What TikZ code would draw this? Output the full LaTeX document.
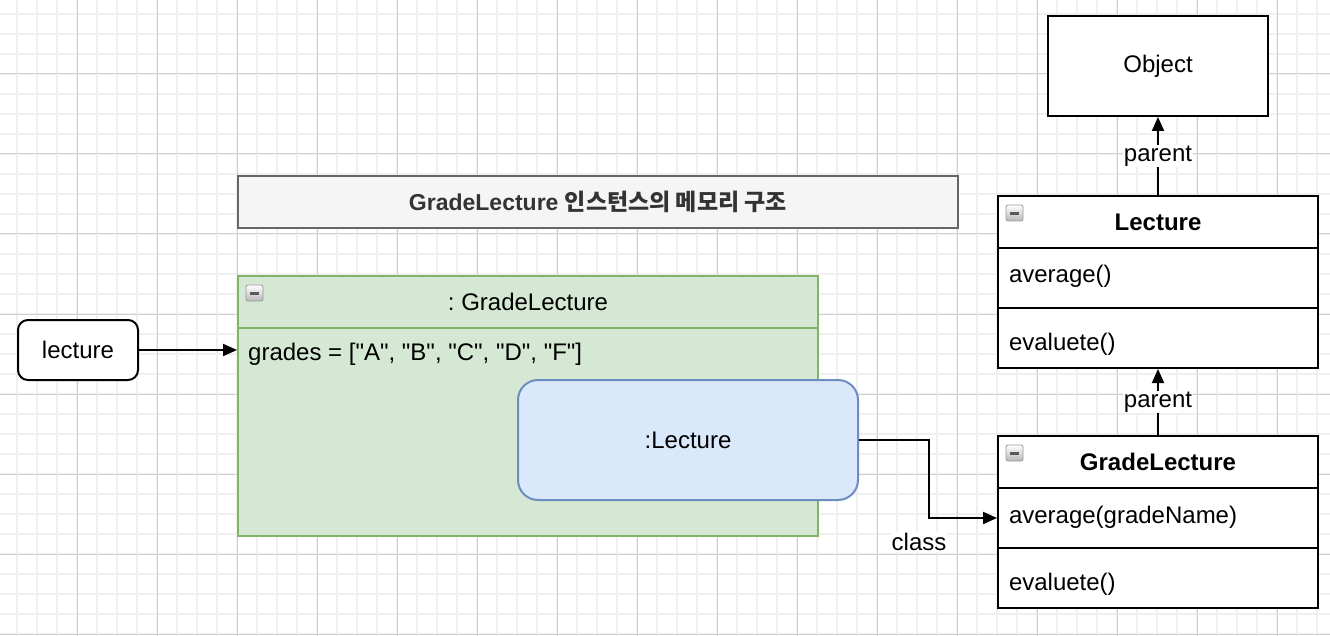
\documentclass[tikz,border=0pt]{standalone}
\usepackage{fontspec}
\setmainfont{Liberation Sans}[Ligatures=TeXOff]
\newfontfamily\krfont{Noto Sans CJK KR}
\usetikzlibrary{arrows.meta}

\definecolor{gridminor}{HTML}{F0F0F0}
\definecolor{gridmajor}{HTML}{D0D0D0}
\definecolor{instfill}{HTML}{D5E8D4}
\definecolor{instline}{HTML}{82B366}
\definecolor{parentfill}{HTML}{DAE8FC}
\definecolor{parentline}{HTML}{6C8EBF}
\definecolor{titlefill}{HTML}{F5F5F5}
\definecolor{titleline}{HTML}{666666}
\definecolor{titletext}{HTML}{333333}

\tikzset{
  minusbox/.pic={
    \draw[rounded corners=2, top color=white, bottom color=black!28, draw=black!40, line width=0.8] (0,0) rectangle (17,16);
    \fill[black!65] (4,6.8) rectangle (13,9.6);
  }
}

\begin{document}
\frenchspacing
\begin{tikzpicture}[x=1pt, y=-1pt, font=\fontsize{24}{29}\selectfont,
    box/.style={draw, line width=2, fill=white, inner sep=0pt, anchor=north west},
    hdr/.style={box, minimum width=320, minimum height=52, font=\fontsize{24}{29}\selectfont\bfseries},
    member/.style={box, minimum width=320, minimum height=60, text width=298, inner xsep=11, align=left,
      text height=20, text depth=10},
    lastmember/.style={member, text height=30, text depth=6},
    link/.style={line width=2, -{Triangle[length=14, width=12]}},
    lbl/.style={fill=white, inner sep=1}]
  \useasboundingbox (0,0) rectangle (1330,636);
  \fill[white] (0,0) rectangle (1330,636);

  % grid
  \foreach \x in {17,37,...,1330} {
    \draw[gridminor, line width=1.5] (\x,0) -- (\x,636);
  }
  \foreach \y in {14,34,...,636} {
    \draw[gridminor, line width=1.5] (0,\y) -- (1330,\y);
  }
  \foreach \x in {77,157,...,1330} {
    \draw[gridmajor, line width=1] (\x,0) -- (\x,636);
  }
  \foreach \y in {74,154,...,636} {
    \draw[gridmajor, line width=1] (0,\y) -- (1330,\y);
  }

  % title
  \node[box, fill=titlefill, draw=titleline, text=titletext, minimum width=720, minimum height=52,
    font=\fontsize{23}{28}\selectfont\bfseries] (title) at (237,175)
    {GradeLecture {\krfont 인스턴스의 메모리 구조}};

  % instance
  \node[box, fill=instfill, draw=instline, minimum width=580, minimum height=52] (instHead) at (237,275) {: GradeLecture};
  \node[box, fill=instfill, draw=instline, minimum width=580, minimum height=208] (instBody) at (237,327) {};
  \node[anchor=west, inner sep=0] (grades) at (248,354) {grades = ["A", "B", "C", "D", "F"]};
  \pic at (246,285) {minusbox};
  \node[box, fill=parentfill, draw=parentline, rounded corners=20, minimum width=340, minimum height=120] (lecPart) at (517,379) {:Lecture};

  \node[box, rounded corners=10, minimum width=120, minimum height=60] (lecVar) at (17,319) {lecture};

  % classes
  \node[box, minimum width=220, minimum height=100] (objBox) at (1047,15) {Object};

  \node[hdr] (lecHead) at (997,195) {Lecture};
  \node[member] (lecAvg) at (997,247) {average()};
  \node[lastmember] (lecEval) at (997,307) {evaluete()};
  \pic at (1006,205) {minusbox};

  \node[hdr] (gradeHead) at (997,435) {GradeLecture};
  \node[member] (gradeAvg) at (997,487) {average(gradeName)};
  \node[lastmember] (gradeEval) at (997,547) {evaluete()};
  \pic at (1006,445) {minusbox};

  % links
  \draw[link] (lecVar.east) -- (lecVar.east -| instBody.west);
  \draw[link] (lecPart.east) -- ++(70,0) |- (gradeAvg.west);
  \node[lbl] (classLbl) at (919,542) {class};
  \draw[link] (lecHead) -- node[lbl] {parent} (objBox);
  \draw[link] (gradeHead) -- node[lbl] {parent} (lecEval);
\end{tikzpicture}
\end{document}
